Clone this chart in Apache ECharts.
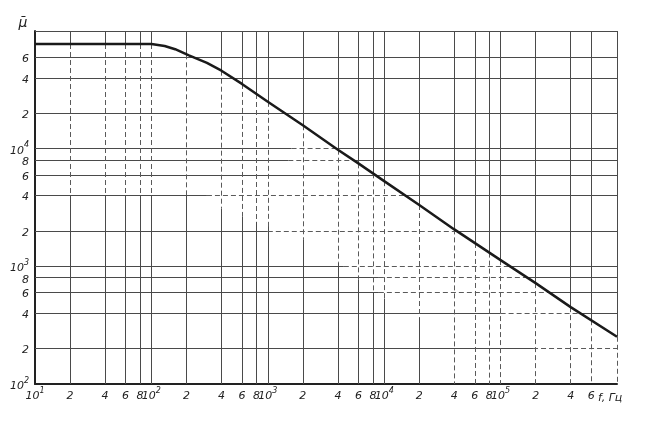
<!DOCTYPE html>
<html><head><meta charset="utf-8">
<script src="https://cdn.jsdelivr.net/npm/echarts@6/dist/echarts.min.js"></script>
<style>html,body{margin:0;padding:0;background:#fff}#c{width:660px;height:431px}</style>
</head><body><div id="c"></div>
<script>
// ---- data ----
const freq = [10, 100, 130, 160, 210, 300, 400, 600, 1000, 2000, 4000, 6000, 10000, 20000, 40000, 100000, 200000, 400000, 1000000];
const mu   = [77500, 77500, 74500, 70000, 62000, 53500, 46000, 35500, 25000, 15800, 9800, 7500, 5300, 3320, 2060, 1130, 720, 450, 252];

const xTickValues = [10,20,40,60,80,100,200,400,600,800,1000,2000,4000,6000,8000,10000,20000,40000,60000,80000,100000,200000,400000,600000];
const xTickLabels = ['10^1','2','4','6','8','10^2','2','4','6','8','10^3','2','4','6','8','10^4','2','4','6','8','10^5','2','4','6'];
const xGridValues = xTickValues.concat([1000000]);
const yTickValues = [100,200,400,600,800,1000,2000,4000,6000,8000,10000,20000,40000,60000];
const yTickLabels = ['10^2','2','4','6','8','10^3','2','4','6','8','10^4','2','4','6'];
const yGridValues = yTickValues.concat([100000]);

// faded (dashed) part of the printed grid below the curve
const bandFreq = [10, 200, 2000, 4000, 6000, 8000, 20000, 40000, 1000000];
const bandMu   = [4000, 4000, 1700, 1070, 770, 600, 370, 100, 100];
const dashRowMu    = [10000, 8000, 4000, 2000, 1000, 800, 600, 400, 200];
const dashRowFromF = [1600, 1500, 300, 1000, 4500, 9000, 9000, 100000, 190000];

// ---- helpers ----
const L = Math.log10;
function interp(xs, ys, x) {
  if (x <= xs[0]) return ys[0];
  if (x >= xs[xs.length - 1]) return ys[ys.length - 1];
  for (let i = 1; i < xs.length; i++) {
    if (x <= xs[i]) { const t = (x - xs[i-1]) / (xs[i] - xs[i-1]); return ys[i-1] + t * (ys[i] - ys[i-1]); }
  }
}
const cLF = freq.map(L), cLM = mu.map(L);
const bLF = bandFreq.map(L), bLM = bandMu.map(L);
const X_MIN = L(xGridValues[0]), X_MAX = L(xGridValues[xGridValues.length-1]);
const Y_MIN = L(yGridValues[0]), Y_MAX = L(yGridValues[yGridValues.length-1]);
function curveLogF(lm) {
  for (let i = 1; i < cLF.length; i++) {
    const a = cLM[i-1], b = cLM[i];
    if (a !== b && lm <= a && lm >= b) { const t = (a - lm) / (a - b); return cLF[i-1] + t * (cLF[i] - cLF[i-1]); }
  }
  return lm < cLM[cLM.length-1] ? X_MAX : X_MIN;
}

const solid = [], dashed = [];
xGridValues.slice(1).forEach(v => {
  const lx = L(v);
  const cm = interp(cLF, cLM, lx);
  const bm = Math.max(interp(bLF, bLM, lx), Y_MIN);
  solid.push([[lx, Y_MAX], [lx, cm]]);
  if (cm > bm) dashed.push([[lx, cm], [lx, bm]]);
  if (bm > Y_MIN) solid.push([[lx, Math.min(bm, cm)], [lx, Y_MIN]]);
});
yGridValues.slice(1).forEach(h => {
  const lh = L(h);
  if (lh >= cLM[0]) { solid.push([[X_MIN, lh], [X_MAX, lh]]); return; }
  const cf = curveLogF(lh);
  if (cf < X_MAX) solid.push([[cf, lh], [X_MAX, lh]]);
  const idx = dashRowMu.indexOf(h);
  if (idx >= 0) {
    const df = L(dashRowFromF[idx]);
    dashed.push([[df, lh], [cf, lh]]);
    solid.push([[X_MIN, lh], [df, lh]]);
  } else {
    solid.push([[X_MIN, lh], [cf, lh]]);
  }
});

function richLabel(txt) {
  const p = txt.split('^');
  return p.length > 1 ? '{b|' + p[0] + '}{s|' + p[1] + '}' : '{b|' + txt + '}';
}
function labelFor(values, labels, v) {
  for (let i = 0; i < values.length; i++) if (Math.abs(L(values[i]) - v) < 1e-6) return richLabel(labels[i]);
  return '';
}
const FONT = 'DejaVu Sans';
const rich = {
  b: {fontSize: 11, fontStyle: 'italic', fontFamily: FONT, color: '#222', padding: [4, 0, 0, 0], verticalAlign: 'bottom'},
  s: {fontSize: 8, fontStyle: 'italic', fontFamily: FONT, color: '#222', verticalAlign: 'top'}
};

const chart = echarts.init(document.getElementById('c'), null, {renderer: 'canvas'});
chart.setOption({
  backgroundColor: '#fff',
  animation: false,
  grid: {left: 35, right: 43, top: 31, bottom: 47, containLabel: false, outerBoundsMode: 'none'},
  xAxis: {
    type: 'value', min: X_MIN, max: X_MAX,
    axisLine: {show: true, onZero: false, lineStyle: {color: '#222', width: 2}},
    axisTick: {show: false}, splitLine: {show: false},
    axisLabel: {customValues: xTickValues.map(L), formatter: v => labelFor(xTickValues, xTickLabels, v), margin: 3, rich: rich},
    name: 'f, Гц', nameLocation: 'end', nameGap: -19, nameMoveOverlap: false,
    nameTextStyle: {fontSize: 11, fontStyle: 'italic', fontFamily: FONT, color: '#222', align: 'left', verticalAlign: 'top', padding: [9, 0, 0, 0]}
  },
  yAxis: {
    type: 'value', min: Y_MIN, max: Y_MAX,
    axisLine: {show: true, onZero: false, lineStyle: {color: '#222', width: 2}},
    axisTick: {show: false}, splitLine: {show: false},
    axisLabel: {customValues: yTickValues.map(L), formatter: v => labelFor(yTickValues, yTickLabels, v), margin: 6, rich: rich},
    name: 'μ\u0304', nameLocation: 'end', nameGap: 1, nameMoveOverlap: false,
    nameTextStyle: {fontSize: 14, fontStyle: 'italic', fontFamily: FONT, color: '#222', align: 'center', verticalAlign: 'bottom', padding: [0, 24, 0, 0]}
  },
  series: [
    {type: 'lines', coordinateSystem: 'cartesian2d', polyline: false, silent: true, z: 1,
     lineStyle: {color: '#4a4a4a', width: 1, opacity: 1, type: 'solid'},
     data: solid.map(c => ({coords: c}))},
    {type: 'lines', coordinateSystem: 'cartesian2d', polyline: false, silent: true, z: 1,
     lineStyle: {color: '#5a5a5a', width: 1, opacity: 1, type: [5, 3]},
     data: dashed.map(c => ({coords: c}))},
    {type: 'line', silent: true, z: 5, symbol: 'none', smooth: false,
     lineStyle: {color: '#1a1a1a', width: 2.5, join: 'round'},
     data: freq.map((f, i) => [L(f), L(mu[i])])}
  ]
});
</script></body></html>
